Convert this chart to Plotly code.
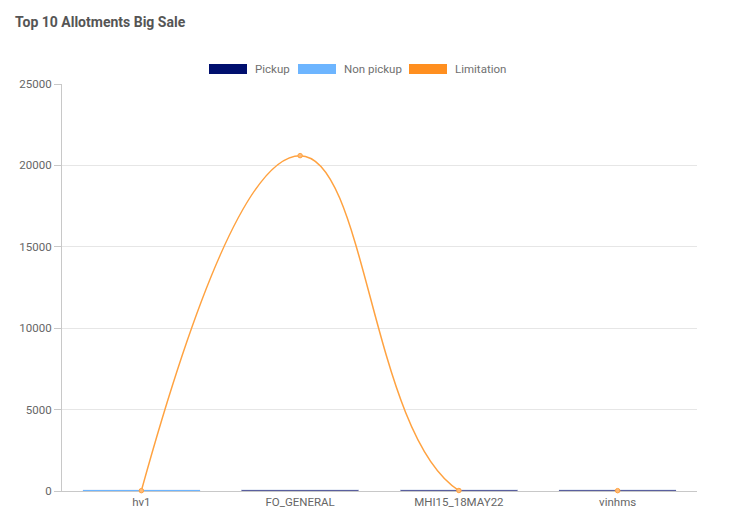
import plotly.graph_objects as go

categories = ["hv1", "FO_GENERAL", "MHI15_18MAY22", "vinhms"]
pickup = [0, 90, 90, 90]
non_pickup = [90, 0, 0, 0]
limitation = [20, 20600, 30, 20]
y_ticks = [0, 5000, 10000, 15000, 20000, 25000]

C_PICK = "#000f6e"
C_NON = "#6db5ff"
C_LIM = "#ff8f1f"
FONT = "Roboto"

fig = go.Figure()
fig.add_trace(go.Bar(x=categories, y=pickup, name="Pickup", marker_color="#5a5f9e",
                     showlegend=False))
fig.add_trace(go.Bar(x=categories, y=non_pickup, name="Non pickup", marker_color=C_NON,
                     showlegend=False))
fig.add_trace(go.Scatter(x=categories, y=limitation, name="Limitation", mode="lines+markers",
                         line=dict(color="#ffa240", width=1.5, shape="spline", smoothing=1.25),
                         marker=dict(color="#ffbb77", size=4.5, line=dict(color="#ffa240", width=1)),
                         showlegend=False, cliponaxis=False))

# page body has an 8px margin, so everything is offset by 8px
OFF = 8
W, H = 733, 531
PL, PR, PT, PB = 62 - OFF, 697 - OFF, 84 - OFF, 491 - OFF
PW, PH = PR - PL, PB - PT

legend_items = [("Pickup", C_PICK, 209), ("Non pickup", C_NON, 298), ("Limitation", C_LIM, 409)]
shapes = []
annotations = []
for name, col, x0 in legend_items:
    shapes.append(dict(type="rect", xref="paper", yref="paper",
                       x0=(x0 - 62) / PW, x1=(x0 + 38 - 62) / PW,
                       y0=(491 - 74) / PH, y1=(491 - 64) / PH,
                       fillcolor=col, line=dict(width=0)))
    annotations.append(dict(text=name, xref="paper", yref="paper",
                            x=(x0 + 44 - 62) / PW, y=(491 - 69) / PH,
                            xanchor="left", yanchor="middle", showarrow=False,
                            font=dict(family=FONT, size=11.5, color="#707070")))

fig.update_layout(
    width=W, height=H,
    margin=dict(l=PL, r=W - PR, t=PT, b=H - PB),
    paper_bgcolor="white", plot_bgcolor="white",
    barmode="stack", bargap=0.26,
    title=dict(text="<b>Top 10 Allotments Big Sale</b>", xref="container", yref="container",
               x=(15 - OFF) / W, y=1 - (22 - OFF) / H, xanchor="left", yanchor="middle",
               font=dict(family=FONT, size=14, color="#555555")),
    shapes=shapes, annotations=annotations,
    font=dict(family=FONT, size=12, color="#666666"),
    xaxis=dict(showgrid=False, showline=True, linecolor="#c8c8c8", linewidth=1,
               layer="below traces",
               ticks="", tickfont=dict(size=11.5, color="#666666"), zeroline=False),
    yaxis=dict(range=[0, 25000], tickvals=y_ticks, tickformat="d", showgrid=True,
               gridcolor="#e6e6e6", showline=True, linecolor="#c8c8c8", ticks="outside",
               layer="below traces",
               ticklen=7, tickcolor="#c8c8c8", zeroline=False,
               tickfont=dict(size=11.5, color="#666666")),
)

fig.write_html("out.html")
